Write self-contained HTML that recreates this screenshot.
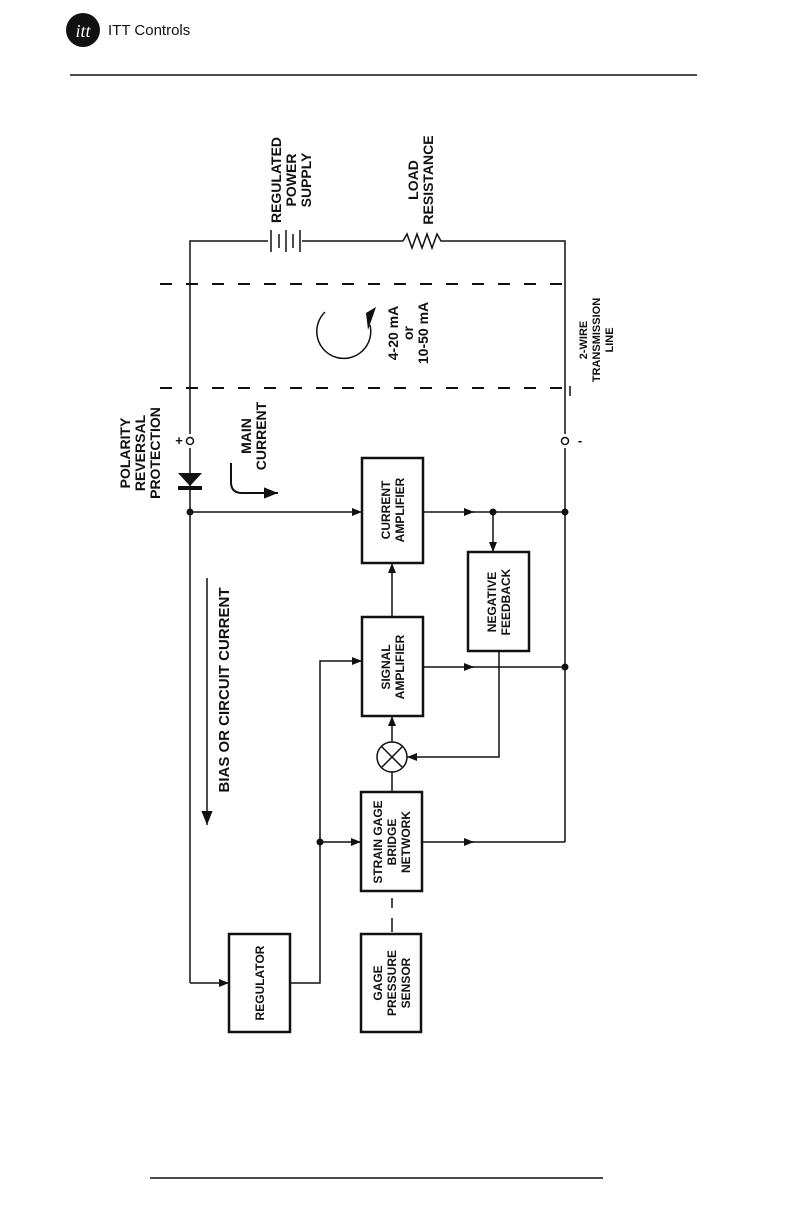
<!DOCTYPE html>
<html><head><meta charset="utf-8"><style>
html,body{margin:0;padding:0;background:#fff;width:792px;height:1224px;overflow:hidden}
svg{display:block}
text{font-family:"Liberation Sans",Arial,sans-serif;font-weight:bold;fill:#111}
</style></head><body>
<svg width="792" height="1224" viewBox="0 0 792 1224" xmlns="http://www.w3.org/2000/svg">
<defs>
<marker id="a" viewBox="0 0 10 10" refX="10" refY="5" markerWidth="14" markerHeight="10" orient="auto" markerUnits="userSpaceOnUse"><path d="M0,1 L10,5 L0,9z" fill="#111"/></marker>
<marker id="b" viewBox="0 0 10 10" refX="10" refY="5" markerWidth="15" markerHeight="14" orient="auto" markerUnits="userSpaceOnUse"><path d="M0,1 L10,5 L0,9z" fill="#111"/></marker>
</defs>
<circle cx="83" cy="30" r="17" fill="#111"/>
<text x="83" y="37" text-anchor="middle" style="font-family:'Liberation Serif',serif;font-style:italic;font-size:18px;fill:#fff;font-weight:normal">itt</text>
<text x="108" y="35" style="font-weight:normal;font-size:15px">ITT Controls</text>
<line x1="70" y1="75" x2="697" y2="75" stroke="#111" stroke-width="1.5"/>
<line x1="150" y1="1178" x2="603" y2="1178" stroke="#111" stroke-width="1.5"/>

<g stroke="#111" stroke-width="1.5" fill="none">
<polyline points="190,434 190,241 268,241"/>
<polyline points="302,241 403,241"/>
<polyline points="403,241 407,234 412,248 417,234 422,248 427,234 432,248 437,234 441,241 565,241 565,434"/>
<line x1="565" y1="448" x2="565" y2="842"/>
<line x1="271" y1="230" x2="271" y2="252"/>
<line x1="279" y1="234" x2="279" y2="248"/>
<line x1="286" y1="230" x2="286" y2="252"/>
<line x1="293" y1="234" x2="293" y2="248"/>
<line x1="300" y1="230" x2="300" y2="252"/>
<line x1="160" y1="284" x2="570" y2="284" stroke-dasharray="12,14" stroke-width="2"/>
<line x1="160" y1="388" x2="570" y2="388" stroke-dasharray="12,14" stroke-width="2"/>
<line x1="190" y1="448" x2="190" y2="983"/>
<polyline points="190,983 229,983" marker-end="url(#a)"/>
<line x1="190" y1="512" x2="362" y2="512" marker-end="url(#a)"/>
<line x1="423" y1="512" x2="474" y2="512" marker-end="url(#a)"/>
<line x1="470" y1="512" x2="565" y2="512"/>
<line x1="493" y1="512" x2="493" y2="552" marker-end="url(#a)"/>
<line x1="423" y1="667" x2="474" y2="667" marker-end="url(#a)"/>
<line x1="470" y1="667" x2="565" y2="667"/>
<polyline points="499,651 499,757 407,757" marker-end="url(#a)"/>
<line x1="422" y1="842" x2="474" y2="842" marker-end="url(#a)"/>
<line x1="470" y1="842" x2="565" y2="842"/>
<polyline points="290,983 320,983 320,661 362,661" marker-end="url(#a)"/>
<line x1="320" y1="842" x2="361" y2="842" marker-end="url(#a)"/>
<line x1="392" y1="617" x2="392" y2="563" marker-end="url(#a)"/>
<line x1="392" y1="742" x2="392" y2="716" marker-end="url(#a)"/>
<line x1="392" y1="792" x2="392" y2="772"/>
<line x1="392" y1="898" x2="392" y2="908"/>
<line x1="392" y1="918" x2="392" y2="932"/>
<circle cx="392" cy="757" r="15"/>
<line x1="381" y1="746" x2="403" y2="768"/>
<line x1="403" y1="746" x2="381" y2="768"/>
<g stroke-width="2.5">
<rect x="362" y="458" width="61" height="105"/>
<rect x="468" y="552" width="61" height="99"/>
<rect x="362" y="617" width="61" height="99"/>
<rect x="361" y="792" width="61" height="99"/>
<rect x="361" y="934" width="60" height="98"/>
<rect x="229" y="934" width="61" height="98"/>
</g>
<circle cx="190" cy="441" r="3.5" fill="#fff"/>
<circle cx="565" cy="441" r="3.5" fill="#fff"/>
<line x1="207" y1="578" x2="207" y2="825" marker-end="url(#b)"/>
<path d="M231,463 L231,482 Q231,493 242,493 L278,493" marker-end="url(#b)" stroke-width="2"/>
<path d="M325,312 A27,27 0 1 0 370,325" stroke-width="1.5"/>
<line x1="570" y1="386" x2="570" y2="396"/>
</g>
<path d="M178,473 L202,473 L190,486z" fill="#111"/>
<rect x="178" y="486" width="24" height="4" fill="#111"/>
<path d="M366,313 L376,307 L368,330z" fill="#111"/>
<g fill="#111">
<circle cx="190" cy="512" r="3.5"/><circle cx="493" cy="512" r="3.5"/><circle cx="565" cy="512" r="3.5"/>
<circle cx="565" cy="667" r="3.5"/><circle cx="320" cy="842" r="3.5"/>
</g>
<text x="179" y="445" style="font-size:13px" text-anchor="middle">+</text>
<text x="580" y="445" style="font-size:13px" text-anchor="middle">-</text>

<g style="font-size:14px">
<g transform="translate(276,180) rotate(-90)"><text text-anchor="middle"><tspan x="0" dy="5">REGULATED</tspan><tspan x="0" dy="15">POWER</tspan><tspan x="0" dy="15">SUPPLY</tspan></text></g>
<g transform="translate(413,180) rotate(-90)"><text text-anchor="middle"><tspan x="0" dy="5">LOAD</tspan><tspan x="0" dy="15">RESISTANCE</tspan></text></g>
<g transform="translate(393,333) rotate(-90)"><text text-anchor="middle"><tspan x="0" dy="5">4-20 mA</tspan><tspan x="0" dy="15">or</tspan><tspan x="0" dy="15">10-50 mA</tspan></text></g>
<g transform="translate(125,453) rotate(-90)"><text text-anchor="middle"><tspan x="0" dy="5">POLARITY</tspan><tspan x="0" dy="15">REVERSAL</tspan><tspan x="0" dy="15">PROTECTION</tspan></text></g>
<g transform="translate(246,436) rotate(-90)"><text text-anchor="middle"><tspan x="0" dy="5">MAIN</tspan><tspan x="0" dy="15">CURRENT</tspan></text></g>
<g transform="translate(229,690) rotate(-90)"><text text-anchor="middle" style="font-size:15px">BIAS OR CIRCUIT CURRENT</text></g>
</g>
<g style="font-size:11px">
<g transform="translate(583,340) rotate(-90)"><text text-anchor="middle"><tspan x="0" dy="4">2-WIRE</tspan><tspan x="0" dy="13">TRANSMISSION</tspan><tspan x="0" dy="13">LINE</tspan></text></g>
</g>
<g style="font-size:12px">
<g transform="translate(386,510) rotate(-90)"><text text-anchor="middle"><tspan x="0" dy="4">CURRENT</tspan><tspan x="0" dy="14">AMPLIFIER</tspan></text></g>
<g transform="translate(492,602) rotate(-90)"><text text-anchor="middle"><tspan x="0" dy="4">NEGATIVE</tspan><tspan x="0" dy="14">FEEDBACK</tspan></text></g>
<g transform="translate(386,667) rotate(-90)"><text text-anchor="middle"><tspan x="0" dy="4">SIGNAL</tspan><tspan x="0" dy="14">AMPLIFIER</tspan></text></g>
<g transform="translate(378,842) rotate(-90)"><text text-anchor="middle"><tspan x="0" dy="4">STRAIN GAGE</tspan><tspan x="0" dy="14">BRIDGE</tspan><tspan x="0" dy="14">NETWORK</tspan></text></g>
<g transform="translate(378,983) rotate(-90)"><text text-anchor="middle"><tspan x="0" dy="4">GAGE</tspan><tspan x="0" dy="14">PRESSURE</tspan><tspan x="0" dy="14">SENSOR</tspan></text></g>
<g transform="translate(264,983) rotate(-90)"><text text-anchor="middle"><tspan x="0" dy="0">REGULATOR</tspan></text></g>
</g>
</svg>
</body></html>
